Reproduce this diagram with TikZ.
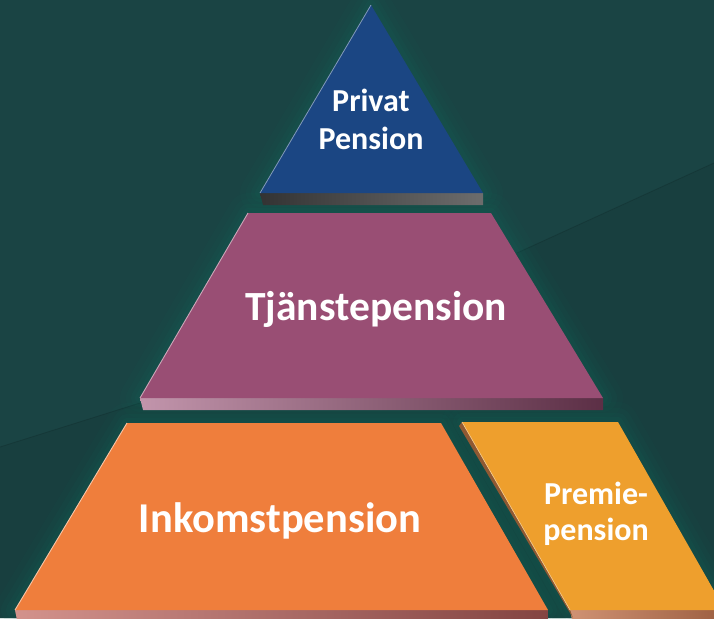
\documentclass[tikz,border=0pt]{standalone}
\usepackage{fontspec}
\setmainfont{Carlito}
\usetikzlibrary{calc}
\definecolor{bgteal}{HTML}{1A4444}
\definecolor{bgdark}{HTML}{183F3F}
\definecolor{glowteal}{HTML}{0F6A5A}
\definecolor{blueface}{HTML}{1B4683}
\definecolor{purpface}{HTML}{994E74}
\definecolor{orangeface}{HTML}{EF7E3C}
\definecolor{premface}{HTML}{EE9F2D}
\tikzset{
  lbl/.style={text=white, font=\bfseries, align=center, inner sep=0pt},
  glow/.style={draw=glowteal, line join=round},
}
\begin{document}
\begin{tikzpicture}[x=1pt,y=-1pt]
\useasboundingbox (0,0) rectangle (714,618);
% background
\fill[bgteal] (0,0) rectangle (714,618);
\fill[bgdark] (0,447) -- (140,403) -- (517,253) -- (714,163) -- (714,618) -- (0,618) -- cycle;
\draw[black!40!bgteal, line width=0.8pt, opacity=0.35] (0,447) -- (140,403);
\draw[black!40!bgteal, line width=0.8pt, opacity=0.35] (517,253) -- (714,163);
% glow around pyramid
\foreach \w/\o in {40/0.06,28/0.08,18/0.1,10/0.12}{
  \draw[glow, line width=\w pt, opacity=\o] (371,5) -- (260,193) -- (483,193) -- cycle;
  \draw[glow, line width=\w pt, opacity=\o] (248,213) -- (491,213) -- (603,398) -- (140,398) -- cycle;
  \draw[glow, line width=\w pt, opacity=\o] (127,423) -- (441,423) -- (548,610) -- (15,610) -- cycle;
  \draw[glow, line width=\w pt, opacity=\o] (462,422) -- (618,422) -- (725,610) -- (570,610) -- cycle;
}
% slabs
\shade[left color=black!60!gray, right color=gray!85!black] (260,193) -- (483,193) -- (483,205) -- (263,205) -- cycle;
\shade[left color=purpface!60!white, right color=purpface!60!black] (140,398) -- (603,398) -- (603,410) -- (143,410) -- cycle;
\shade[left color=orangeface!45!purpface!70!white, right color=orangeface!40!purpface!70!black] (15,610) -- (548,610) -- (548,625) -- (18,625) -- cycle;
\shade[left color=premface!50!purpface!80!white, right color=premface!50!purpface!80!black] (570,610) -- (725,610) -- (725,625) -- (573,625) -- cycle;
\fill[premface!60!purpface!70!black] (462,422) -- (570,610) -- (573,618) -- (459,426) -- cycle;
% faces
\fill[blueface] (371,5) coordinate (pa) -- (260,193) coordinate (pb) -- (483,193) coordinate (pc) -- cycle;
\fill[purpface] (248,213) coordinate (qa) -- (491,213) -- (603,398) -- (140,398) coordinate (qd) -- cycle;
\fill[orangeface] (127,423) coordinate (ra) -- (441,423) -- (548,610) -- (15,610) coordinate (rd) -- cycle;
\fill[premface] (462,422) coordinate (sa) -- (618,422) -- (725,610) -- (570,610) coordinate (sd) -- cycle;
% light highlights on left edges
\draw[blueface!55!white, line width=0.8pt] (pa) -- (pb);
\draw[purpface!50!white, line width=0.9pt] (qa) -- (qd);
\draw[orangeface!45!white, line width=0.9pt] (ra) -- (rd);
\draw[premface!50!white, line width=0.6pt] (sa) -- (sd);
% labels
\node[lbl, font=\bfseries\fontsize{32}{38}\selectfont] (privat) at (371,119) {Privat\\Pension};
\node[lbl, font=\bfseries\fontsize{41.5}{48}\selectfont] (tjanste) at (376,309) {Tjänstepension};
\node[lbl, font=\bfseries\fontsize{42.5}{50}\selectfont] (inkomst) at (280,521) {Inkomstpension};
\node[lbl, font=\bfseries\fontsize{32}{36}\selectfont] (premie) at (596,514) {Premie-\\pension};
\end{tikzpicture}
\end{document}
